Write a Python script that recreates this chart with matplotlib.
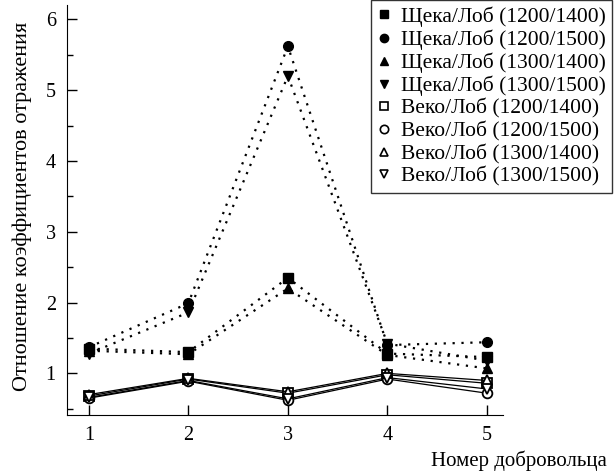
import matplotlib
matplotlib.use("Agg")
import matplotlib.pyplot as plt
from matplotlib.ticker import MultipleLocator
from matplotlib.lines import Line2D

plt.rcParams['font.family'] = ['Liberation Serif', 'DejaVu Serif']

volunteers = [1, 2, 3, 4, 5]

cheek_1200_1400 = [1.35, 1.30, 2.35, 1.28, 1.23]
cheek_1200_1500 = [1.37, 1.99, 5.62, 1.40, 1.44]
cheek_1300_1400 = [1.32, 1.27, 2.20, 1.26, 1.07]
cheek_1300_1500 = [1.28, 1.86, 5.20, 1.42, 1.18]

lid_1200_1400 = [0.68, 0.92, 0.72, 0.98, 0.86]
lid_1200_1500 = [0.65, 0.89, 0.62, 0.92, 0.72]
lid_1300_1400 = [0.70, 0.93, 0.74, 1.00, 0.90]
lid_1300_1500 = [0.66, 0.90, 0.64, 0.94, 0.78]

labels = ["Щека/Лоб (1200/1400)", "Щека/Лоб (1200/1500)",
          "Щека/Лоб (1300/1400)", "Щека/Лоб (1300/1500)",
          "Веко/Лоб (1200/1400)", "Веко/Лоб (1200/1500)",
          "Веко/Лоб (1300/1400)", "Веко/Лоб (1300/1500)"]

fig = plt.figure(figsize=(6.14, 4.75), dpi=100)
ax = fig.add_axes([0.109, 0.126, 0.71, 0.863])

cheek = [cheek_1200_1400, cheek_1200_1500, cheek_1300_1400, cheek_1300_1500]
lid = [lid_1200_1400, lid_1200_1500, lid_1300_1400, lid_1300_1500]
markers = ['s', 'o', '^', 'v']

handles = []
for vals, m in zip(cheek, markers):
    ax.plot(volunteers, vals, linestyle=(0, (1, 3)), color='black', lw=1.6,
            marker=m, markersize=7, markerfacecolor='black', markeredgecolor='black')
    handles.append(Line2D([], [], linestyle='none', marker=m, markersize=6,
                          markerfacecolor='black', markeredgecolor='black'))
for vals, m in zip(lid, markers):
    ax.plot(volunteers, vals, linestyle='-', color='black', lw=0.9,
            marker=m, markersize=7, markerfacecolor='white', markeredgecolor='black',
            markeredgewidth=1.3)
    handles.append(Line2D([], [], linestyle='none', marker=m, markersize=6,
                          markerfacecolor='white', markeredgecolor='black',
                          markeredgewidth=1.2))

ax.set_xlim(0.78, 5.16)
ax.set_ylim(0.41, 6.2)
ax.set_xticks(volunteers)
ax.yaxis.set_major_locator(MultipleLocator(1))
ax.yaxis.set_minor_locator(MultipleLocator(0.5))
ax.set_yticks([1, 2, 3, 4, 5, 6])
ax.spines['top'].set_visible(False)
ax.spines['right'].set_visible(False)
ax.tick_params(direction='in', length=7, width=1, labelsize=14.5, pad=8)
ax.tick_params(which='minor', direction='in', length=4, width=1)

fig.text(0.036, 0.566, "Отношение коэффициентов отражения", rotation=90,
         ha='center', va='center', fontsize=16)
fig.text(0.988, 0.031, "Номер добровольца", ha='right', va='center', fontsize=15)

leg = fig.legend(handles, labels, loc='upper right', bbox_to_anchor=(0.997, 1.0),
                 frameon=True, fancybox=False, edgecolor='black', fontsize=15.5,
                 handlelength=0.6, handletextpad=0.5, labelspacing=0.12,
                 borderpad=0.3, borderaxespad=0.0)
leg.get_frame().set_linewidth(1.0)

fig.savefig("out.png", dpi=100)
